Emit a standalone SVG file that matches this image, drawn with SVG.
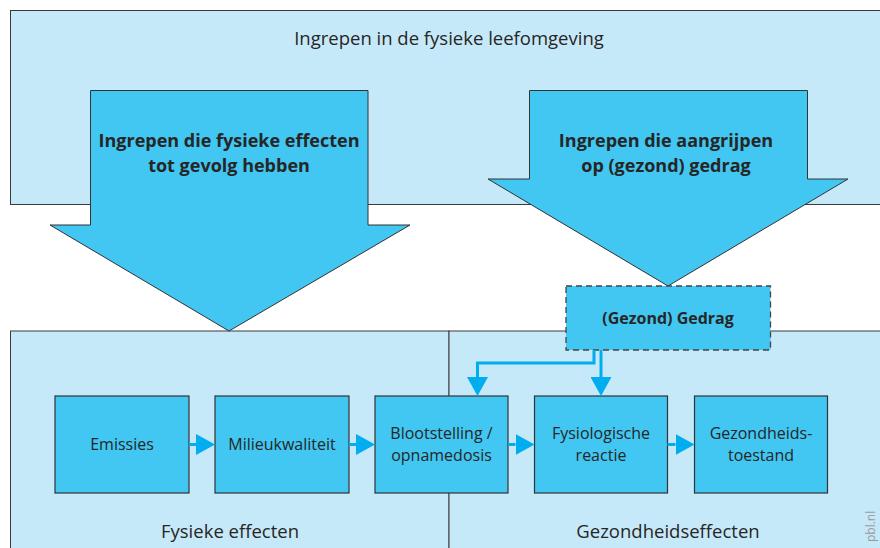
<svg xmlns="http://www.w3.org/2000/svg" width="880" height="548" viewBox="0 0 880 548">
<defs>
<style>
.panel{fill:#c6e9f9;stroke:#3a3a3a;stroke-width:1}
.box{fill:#41c7f2;stroke:#333;stroke-width:1.2}
.big{fill:#41c7f2;stroke:#333;stroke-width:1}
.t{font-family:"Open Sans","Liberation Sans",sans-serif;fill:#262626;text-anchor:middle}
.bt{font-size:16px}
.bold{font-weight:bold}
.con{fill:none;stroke:#00adee;stroke-width:3}
</style>
<marker id="ah" markerUnits="userSpaceOnUse" markerWidth="19" markerHeight="21" refX="0" refY="10.5" orient="auto" viewBox="0 0 19 21">
<path d="M0,0 L19,10.5 L0,21 z" fill="#00adee"/>
</marker>
</defs>
<rect width="880" height="548" fill="#fff"/>
<g id="panel-top">
<rect class="panel" x="10.5" y="10.5" width="880" height="194"/>
<text class="t" x="449" y="45" font-size="18.5">Ingrepen in de fysieke leefomgeving</text>
</g>
<g id="panel-fysiek">
<rect class="panel" x="10.5" y="331" width="438.5" height="230"/>
<text class="t" x="230" y="538" font-size="18.5">Fysieke effecten</text>
</g>
<g id="panel-gezondheid">
<rect class="panel" x="449" y="331" width="440" height="230"/>
<text class="t" x="668" y="538" font-size="18.5">Gezondheidseffecten</text>
</g>
<g id="arrow-fysiek">
<path class="big" d="M90.5,90.5 H368 V225 H410 L229,331 L50,225 H90.5 Z"/>
<text class="t bold" font-size="18" x="229" y="147">Ingrepen die fysieke effecten</text>
<text class="t bold" font-size="18" x="229" y="172">tot gevolg hebben</text>
</g>
<g id="arrow-gedrag">
<path class="big" d="M529.5,90.5 H807.5 V179 H848 L668,286 L488,179 H529.5 Z"/>
<text class="t bold" font-size="18" x="666" y="147">Ingrepen die aangrijpen</text>
<text class="t bold" font-size="18" x="666" y="172">op (gezond) gedrag</text>
</g>
<g id="gedrag">
<rect x="566" y="286" width="204.5" height="64" fill="#41c7f2" stroke="#444" stroke-width="1.3" stroke-dasharray="6,4"/>
<text class="t bold" font-size="16" x="668" y="324">(Gezond) Gedrag</text>
</g>
<g id="emissies">
<rect class="box" x="55" y="396" width="134" height="97"/>
<text class="t bt" x="122" y="450">Emissies</text>
</g>
<g id="milieukwaliteit">
<rect class="box" x="215" y="396" width="134" height="97"/>
<text class="t bt" x="282" y="450">Milieukwaliteit</text>
</g>
<g id="blootstelling">
<rect class="box" x="375" y="396" width="133" height="97"/>
<text class="t bt" x="441.5" y="439">Blootstelling /</text>
<text class="t bt" x="441.5" y="461">opnamedosis</text>
</g>
<g id="fysiologisch">
<rect class="box" x="534.5" y="396" width="133" height="97"/>
<text class="t bt" x="601" y="439">Fysiologische</text>
<text class="t bt" x="601" y="461">reactie</text>
</g>
<g id="gezondheidstoestand">
<rect class="box" x="694.5" y="396" width="133" height="97"/>
<text class="t bt" x="761" y="439">Gezondheids-</text>
<text class="t bt" x="761" y="461">toestand</text>
</g>
<g id="connectors">
<path class="con" d="M189,444.5 H196" marker-end="url(#ah)"/>
<path class="con" d="M349,444.5 H356" marker-end="url(#ah)"/>
<path class="con" d="M508,444.5 H515.5" marker-end="url(#ah)"/>
<path class="con" d="M667.5,444.5 H675.5" marker-end="url(#ah)"/>
<path class="con" d="M594,350 V363 H477.5 V377" marker-end="url(#ah)"/>
<path class="con" d="M601,350 V377" marker-end="url(#ah)"/>
</g>
<text x="875" y="542" transform="rotate(-90 875 542)" font-family="Open Sans, Liberation Sans, sans-serif" font-size="12" fill="#9a9a9a">pbl.nl</text>
</svg>
